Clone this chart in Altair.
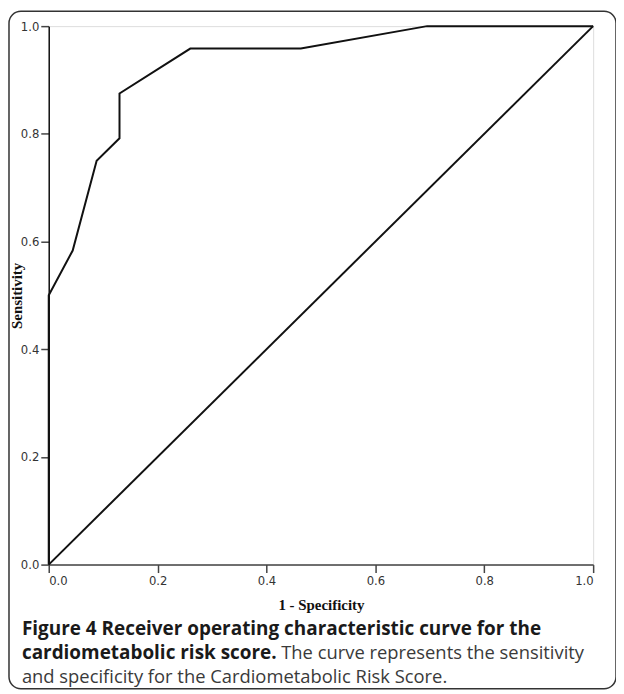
import altair as alt
import pandas as pd

# ROC curve values
fpr = [0.0, 0.0, 0.044, 0.088, 0.13, 0.13, 0.26, 0.463, 0.695, 1.0]
tpr = [0.0, 0.5, 0.5833, 0.75, 0.7917, 0.875, 0.9583, 0.9583, 1.0, 1.0]
ref_x = [0.0, 1.0]
ref_y = [0.0, 1.0]
ticks = [0.0, 0.2, 0.4, 0.6, 0.8, 1.0]

caption_l1 = "Figure 4 Receiver operating characteristic curve for the"
caption_l2_bold = "cardiometabolic risk score."
caption_l2_reg = "The curve represents the sensitivity"
caption_l3 = "and specificity for the Cardiometabolic Risk Score."

roc = pd.DataFrame({"x": fpr, "y": tpr, "i": list(range(len(fpr)))})
ref = pd.DataFrame({"x": ref_x, "y": ref_y, "i": [0, 1]})

W, H = 548, 542
LABEL_FONT = "Liberation Sans Narrow, DejaVu Sans Condensed, sans-serif"
TITLE_FONT = "Liberation Serif, serif"
CAP_FONT = "Open Sans, sans-serif"
BOLD_SIZE = 19.05
REG_SIZE = 18.5

xs = alt.Scale(domain=[0, 1], nice=False)
ys = alt.Scale(domain=[0, 1], nice=False)

x_axis = alt.Axis(
    values=ticks, format=".1f", title="1 - Specificity", grid=False,
    domainColor="#444", domainWidth=1.5, tickColor="#444", tickWidth=1.5, tickSize=8,
    labelFont=LABEL_FONT, labelFontSize=13, labelColor="#333", labelPadding=2,
    titleFont=TITLE_FONT, titleFontSize=15, titleFontWeight="bold", titleColor="#111",
    titleY=40, titleBaseline="middle",
)
y_axis = alt.Axis(
    values=ticks, format=".1f", title="Sensitivity", grid=False,
    domainColor="#111", domainWidth=1.5, tickColor="#444", tickWidth=1.5, tickSize=8,
    labelFont=LABEL_FONT, labelFontSize=13, labelColor="#333", labelPadding=2,
    titleFont=TITLE_FONT, titleFontSize=15, titleFontWeight="bold", titleColor="#111",
    titleX=-32, titleBaseline="middle", titleAngle=-90,
)

curve = alt.Chart(roc).mark_line(color="#111", strokeWidth=2).encode(
    x=alt.X("x:Q", scale=xs, axis=x_axis),
    y=alt.Y("y:Q", scale=ys, axis=y_axis),
    order="i:Q",
)
diag = alt.Chart(ref).mark_line(color="#111", strokeWidth=2).encode(
    x=alt.X("x:Q", scale=xs),
    y=alt.Y("y:Q", scale=ys),
    order="i:Q",
)

border = alt.Chart(pd.DataFrame({"a": [0]})).mark_rect(
    fillOpacity=0, stroke="#333", strokeWidth=1.5, cornerRadius=12
).encode(
    x=alt.value(-40), x2=alt.value(571), y=alt.value(-15), y2=alt.value(667)
)

def cap(text, x, y, bold):
    return alt.Chart(pd.DataFrame({"t": [text]})).mark_text(
        align="left", baseline="alphabetic", font=CAP_FONT,
        fontSize=BOLD_SIZE if bold else REG_SIZE,
        fontWeight="bold" if bold else "normal",
        color="#1a1a1a" if bold else "#3a3a3a",
    ).encode(text="t:N", x=alt.value(x), y=alt.value(y))

c1 = cap(caption_l1, -27, 613, True)
c2 = cap(caption_l2_bold, -27, 637, True)
c3 = cap(caption_l2_reg, 234, 637, False)
c4 = cap(caption_l3, -27, 661, False)

chart = alt.layer(border, diag, curve, c1, c2, c3, c4).properties(
    width=W, height=H,
    autosize=alt.AutoSizeParams(type="none"),
    padding={"left": 41, "top": 16, "right": 23, "bottom": 128},
).configure_view(stroke="#8a8a8a", strokeWidth=1.2).configure(background="white")

chart.save("out.html", embed_options={"renderer": "svg", "actions": False})
